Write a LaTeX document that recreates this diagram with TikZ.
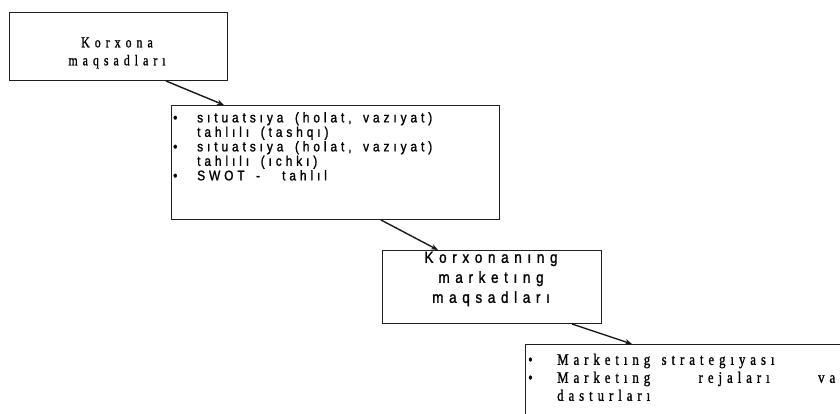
\documentclass[tikz,border=0pt]{standalone}
\usepackage{fontspec}
\setmainfont{Liberation Serif}
\newfontfamily\boxsans[FakeStretch=0.85,WordSpace=1.6,FakeBold=1.3]{Liberation Sans}
\newfontfamily\boxserif[FakeStretch=0.8,WordSpace=1.4,FakeBold=1.1]{Liberation Serif}
\usetikzlibrary{arrows.meta,calc}
\newcommand\fonta{\boxserif\fontsize{15}{18}\selectfont\addfontfeature{LetterSpace=33}}
\newcommand\fontb{\boxsans\fontsize{14}{14.5}\selectfont\addfontfeature{LetterSpace=28}}
\newcommand\fontc{\boxsans\fontsize{16}{20}\selectfont\addfontfeature{LetterSpace=35}}
\newcommand\fontd{\boxserif\fontsize{16}{18}\selectfont\addfontfeature{LetterSpace=31}}
\begin{document}
\begin{tikzpicture}[x=1pt,y=-1pt,
  box/.style={draw=black!88, line width=1pt, inner sep=0pt, anchor=north west},
  txt/.style={inner sep=0pt, text=black},
  arr/.style={draw=black!90, line width=1.4pt, -{Stealth[length=7pt,width=5.5pt]}}]
\useasboundingbox (0,0) rectangle (840,414);
\clip (0,0) rectangle (840,414);
\fill[white] (0,0) rectangle (840,414);
% boxes
\node[box, minimum width=218pt, minimum height=68pt] (b1) at (9,12) {};
\node[box, minimum width=328pt, minimum height=114pt] (b2) at (171,105) {};
\node[box, minimum width=219pt, minimum height=73pt] (b3) at (382,250) {};
\node[box, minimum width=340pt, minimum height=90pt] (b4) at (525,344) {};
% texts
\node[txt, font=\fonta, align=center] (t1) at (117,53) {Korxona\\maqsadları};
\node[txt, font=\fontb, anchor=north west] (t2) at (173,112) {%
  \renewcommand{\arraystretch}{1}%
  \begin{tabular}{@{}p{24pt}@{}l@{}}
  •&sıtuatsıya (holat, vazıyat)\\
   &tahlılı (tashqı)\\
  •&sıtuatsıya (holat, vazıyat)\\
   &tahlılı (ıchkı)\\
  •&SWOT -\hspace{22pt}tahlıl
  \end{tabular}};
\node[txt, font=\fontc, align=center] (t3) at (491,279) {Korxonanıng\\marketıng\\maqsadları};
\node[txt, font=\fontd, anchor=north west] (t4) at (528,352) {%
  \renewcommand{\arraystretch}{1}%
  \begin{tabular}{@{}p{29pt}@{}p{278pt}@{}}
  •&Marketıng strategıyası\\
  •&Marketıng\hfill rejaları\hfill va\\
   &dasturları
  \end{tabular}};
% connectors
\draw[arr] ([xshift=157pt]b1.south west) -- ([xshift=53pt]b2.north west);
\draw[arr] ([xshift=210pt]b2.south west) -- ([xshift=56pt]b3.north west);
\draw[arr] ([xshift=190pt]b3.south west) -- ([xshift=107pt]b4.north west);
\end{tikzpicture}
\end{document}
